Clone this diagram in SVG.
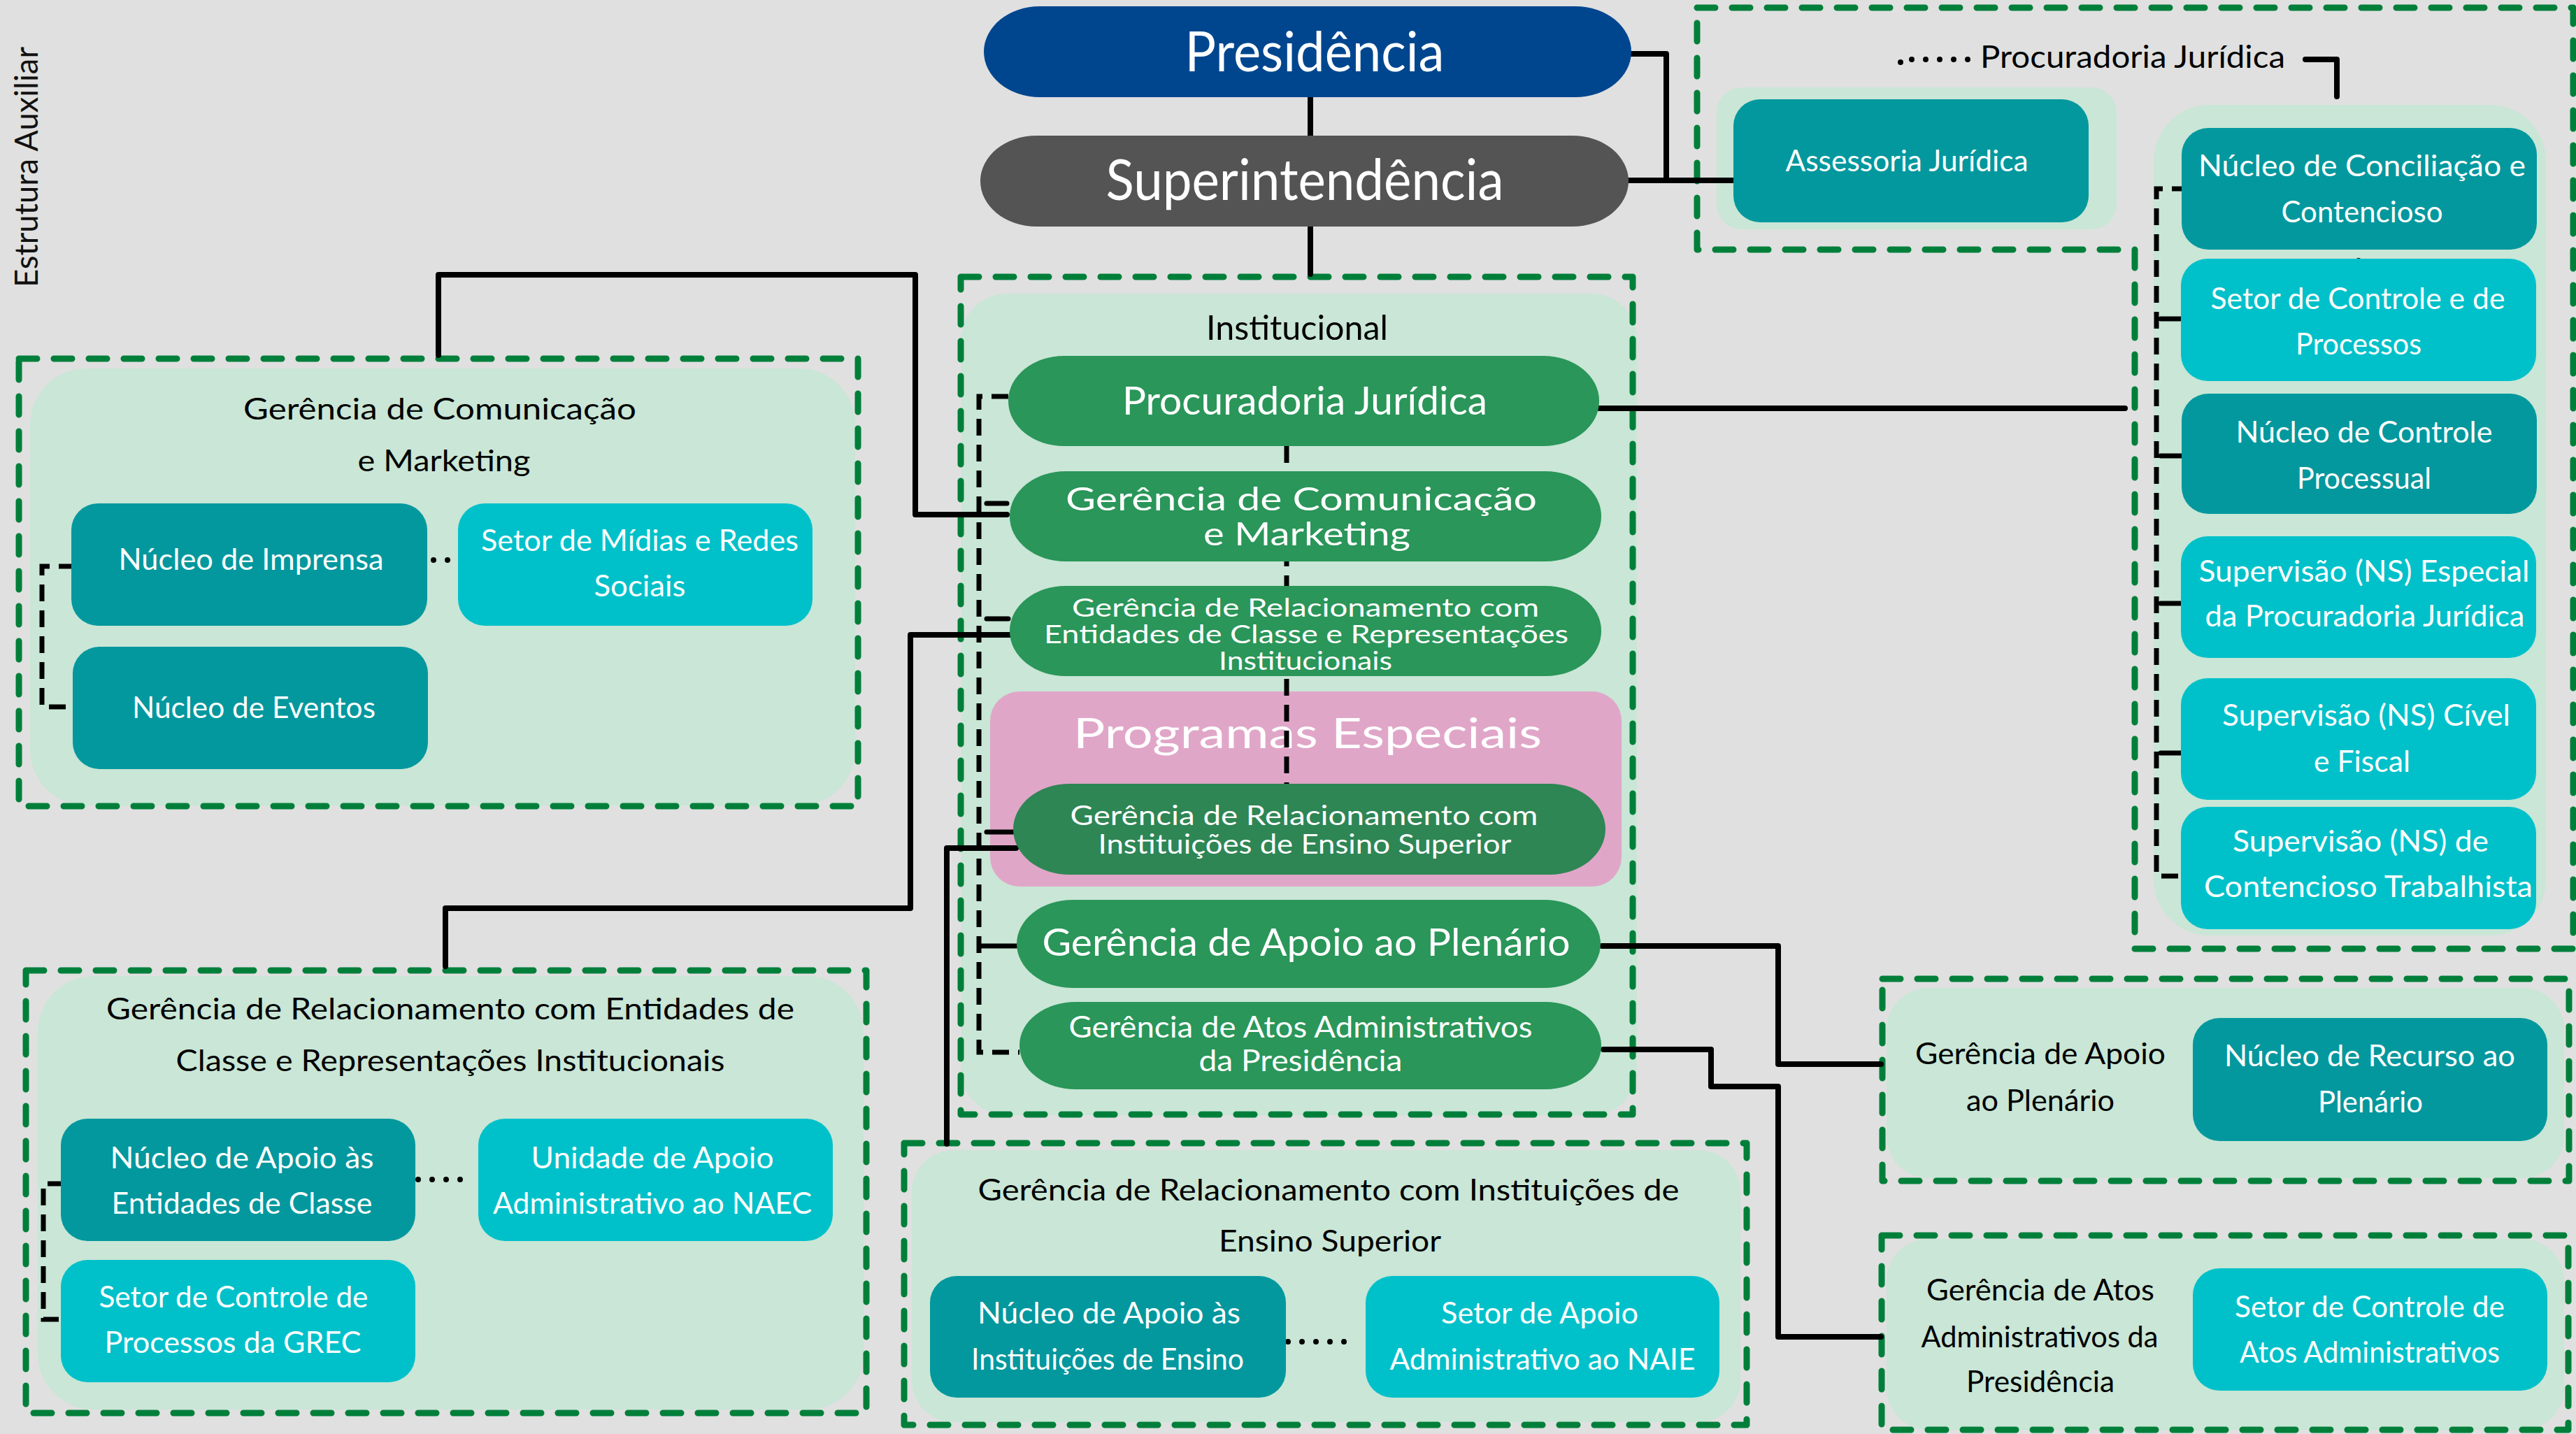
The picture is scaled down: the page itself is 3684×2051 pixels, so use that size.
<svg xmlns="http://www.w3.org/2000/svg" width="3684" height="2051" viewBox="0 0 3684 2051">
<style>
.dash{fill:none;stroke:#007F3A;stroke-width:9;stroke-dasharray:26 24;stroke-linecap:round;stroke-linejoin:round}
.panel{fill:#C9E6D6}
.teal{fill:#03989E}
.cyan{fill:#00C1CA}
.pill{fill:#2A9659}
.conn{fill:none;stroke:#000;stroke-width:8;stroke-linecap:round;stroke-linejoin:round}
.dconn{fill:none;stroke:#000;stroke-width:7;stroke-dasharray:24 13}
.stub{fill:none;stroke:#000;stroke-width:7;stroke-linecap:round}
.dots{fill:none;stroke:#000;stroke-width:8;stroke-linecap:round;stroke-dasharray:0 20}
text{font-family:Lato,"Open Sans","Liberation Sans",sans-serif;text-anchor:middle;fill:#fff}
.k{fill:#000}
.b{font-size:43px}
.g{font-size:43px;fill:#000}
</style>
<rect width="3684" height="2051" fill="#E0E0E0"/>
<text transform="translate(54,239) rotate(-90)" font-size="46" textLength="344" lengthAdjust="spacingAndGlyphs" style="fill:#111">Estrutura Auxiliar</text>

<g id="grp-procuradoria">
<path class="dash" d="M2427,11 H3680 V1357 H3053 V357 H2427 Z"/>
<rect class="panel" x="2455" y="125" width="572" height="203" rx="36"/>
<rect class="panel" x="3080" y="150" width="561" height="1188" rx="80"/>
<text class="k" x="3050" y="97" font-size="44" textLength="436" lengthAdjust="spacingAndGlyphs">Procuradoria Jurídica</text>
</g>
<g id="grp-institucional">
<rect class="panel" x="1375" y="420" width="966" height="1175" rx="65"/>
<rect class="dash" x="1374" y="396" width="961" height="1198"/>
<text class="k" x="1855" y="486" font-size="48" textLength="260" lengthAdjust="spacingAndGlyphs">Institucional</text>
<rect x="1416" y="989" width="903" height="279" rx="42" fill="#E0A6C8"/>
<text x="1870" y="1070" font-size="60" textLength="670" lengthAdjust="spacingAndGlyphs">Programas Especiais</text>
</g>
<g id="grp-gcm">
<rect class="panel" x="43" y="527" width="1180" height="625" rx="80"/>
<rect class="dash" x="27" y="513" width="1200" height="640"/>
<text class="g" x="629" y="600" textLength="562" lengthAdjust="spacingAndGlyphs">Gerência de Comunicação</text>
<text class="g" x="635" y="674" textLength="247" lengthAdjust="spacingAndGlyphs">e Marketing</text>
</g>
<g id="grp-grec">
<rect class="panel" x="54" y="1396" width="1181" height="620" rx="80"/>
<rect class="dash" x="37" y="1388" width="1202" height="633"/>
<text class="g" x="644" y="1458" textLength="984" lengthAdjust="spacingAndGlyphs">Gerência de Relacionamento com Entidades de</text>
<text class="g" x="644" y="1532" textLength="785" lengthAdjust="spacingAndGlyphs">Classe e Representações Institucionais</text>
</g>
<g id="grp-ies">
<rect class="panel" x="1304" y="1645" width="1185" height="389" rx="60"/>
<rect class="dash" x="1293" y="1635" width="1205" height="403"/>
<text class="g" x="1900" y="1717" textLength="1003" lengthAdjust="spacingAndGlyphs">Gerência de Relacionamento com Instituições de</text>
<text class="g" x="1902" y="1790" textLength="318" lengthAdjust="spacingAndGlyphs">Ensino Superior</text>
</g>
<g id="grp-plenario">
<rect class="panel" x="2698" y="1413" width="969" height="272" rx="60"/>
<rect class="dash" x="2692" y="1400" width="982" height="289"/>
<text class="g" x="2918" y="1522" textLength="358" lengthAdjust="spacingAndGlyphs">Gerência de Apoio</text>
<text class="g" x="2918" y="1589" textLength="212" lengthAdjust="spacingAndGlyphs">ao Plenário</text>
</g>
<g id="grp-atos">
<rect class="panel" x="2698" y="1772" width="969" height="273" rx="60"/>
<rect class="dash" x="2691" y="1767" width="982" height="278"/>
<text class="g" x="2918" y="1860" textLength="326" lengthAdjust="spacingAndGlyphs">Gerência de Atos</text>
<text class="g" x="2917" y="1927" textLength="339" lengthAdjust="spacingAndGlyphs">Administrativos da</text>
<text class="g" x="2918" y="1991" textLength="212" lengthAdjust="spacingAndGlyphs">Presidência</text>
</g>

<g id="connectors">
<path class="conn" d="M1874,139 V194"/>
<path class="conn" d="M1874,324 V392"/>
<path class="conn" d="M2333,77 H2383 V258"/>
<path class="conn" d="M2329,258 H2482"/>
<path class="conn" d="M2287,584 H3039"/>
<path class="conn" d="M3297,85 H3342 V138"/>
<path class="dots" d="M2814,85 H2718 V107"/>
<path class="conn" d="M1440,736 H1309 V393 H627 V508"/>
<path class="conn" d="M1445,908 H1302 V1299 H637 V1382"/>
<path class="conn" d="M1453,1213 H1354 V1636"/>
<path class="conn" d="M2291,1353 H2543 V1522 H2690"/>
<path class="conn" d="M2293,1501 H2447 V1554 H2543 V1912 H2690"/>
<path class="dconn" d="M1442,567 H1400 V1505 H1458"/>
<path class="stub" d="M1411,720 H1440 M1411,885 H1442 M1411,1190 H1450 M1404,1353 H1454"/>
<path class="dconn" d="M1840,638 V1121"/>
<path class="dconn" d="M3130,270 H3084 V1253 H3130"/>
<path class="stub" d="M3090,456 H3130 M3090,652 H3130 M3090,863 H3130 M3090,1077 H3130"/>
<path class="dconn" d="M108,810 H60 V1011 H108"/>
<path class="dconn" d="M92,1693 H62 V1887 H92"/>
<path class="dots" d="M620,801 H642"/>
<path class="dots" d="M598,1687 H678"/>
<path class="dots" d="M1842,1919 H1942"/>
<path class="dots" d="M3373,353 V393"/>
</g>

<g id="presidencia">
<rect x="1407" y="9" width="926" height="130" rx="80" ry="65" fill="#00468F"/>
<text x="1880" y="102" font-size="80" textLength="371" lengthAdjust="spacingAndGlyphs">Presidência</text>
</g>
<g id="superintendencia">
<rect x="1402" y="194" width="927" height="130" rx="80" ry="65" fill="#545454"/>
<text x="1866" y="286" font-size="82" textLength="569" lengthAdjust="spacingAndGlyphs">Superintendência</text>
</g>

<g id="assessoria-juridica">
<rect class="teal" x="2479" y="142" width="508" height="176" rx="38"/>
<text class="b" x="2727" y="245" textLength="347" lengthAdjust="spacingAndGlyphs">Assessoria Jurídica</text>
</g>
<g id="nucleo-conciliacao">
<rect class="teal" x="3120" y="183" width="508" height="174" rx="38"/>
<text class="b" x="3378" y="252" textLength="468" lengthAdjust="spacingAndGlyphs">Núcleo de Conciliação e</text>
<text class="b" x="3378" y="318" textLength="231" lengthAdjust="spacingAndGlyphs">Contencioso</text>
</g>
<g id="setor-controle-processos">
<rect class="cyan" x="3119" y="370" width="508" height="175" rx="38"/>
<text class="b" x="3372" y="442" textLength="421" lengthAdjust="spacingAndGlyphs">Setor de Controle e de</text>
<text class="b" x="3373" y="507" textLength="180" lengthAdjust="spacingAndGlyphs">Processos</text>
</g>
<g id="nucleo-controle-processual">
<rect class="teal" x="3120" y="563" width="508" height="172" rx="38"/>
<text class="b" x="3381" y="633" textLength="367" lengthAdjust="spacingAndGlyphs">Núcleo de Controle</text>
<text class="b" x="3381" y="699" textLength="192" lengthAdjust="spacingAndGlyphs">Processual</text>
</g>
<g id="supervisao-especial">
<rect class="cyan" x="3119" y="767" width="508" height="174" rx="38"/>
<text class="b" x="3381" y="832" textLength="473" lengthAdjust="spacingAndGlyphs">Supervisão (NS) Especial</text>
<text class="b" x="3382" y="896" textLength="457" lengthAdjust="spacingAndGlyphs">da Procuradoria Jurídica</text>
</g>
<g id="supervisao-civel">
<rect class="cyan" x="3119" y="970" width="508" height="174" rx="38"/>
<text class="b" x="3384" y="1038" textLength="412" lengthAdjust="spacingAndGlyphs">Supervisão (NS) Cível</text>
<text class="b" x="3378" y="1104" textLength="138" lengthAdjust="spacingAndGlyphs">e Fiscal</text>
</g>
<g id="supervisao-trabalhista">
<rect class="cyan" x="3119" y="1154" width="508" height="175" rx="38"/>
<text class="b" x="3376" y="1218" textLength="366" lengthAdjust="spacingAndGlyphs">Supervisão (NS) de</text>
<text class="b" x="3387" y="1283" textLength="470" lengthAdjust="spacingAndGlyphs">Contencioso Trabalhista</text>
</g>

<g id="inst-procuradoria">
<rect class="pill" x="1442" y="509" width="845" height="129" rx="80" ry="64"/>
<text x="1866" y="593" font-size="56" textLength="522" lengthAdjust="spacingAndGlyphs">Procuradoria Jurídica</text>
</g>
<g id="inst-gcm">
<rect class="pill" x="1444" y="674" width="846" height="129" rx="80" ry="64"/>
<text font-size="46"><tspan x="1861" y="730" textLength="674" lengthAdjust="spacingAndGlyphs">Gerência de Comunicação</tspan><tspan x="1869" y="780" textLength="296" lengthAdjust="spacingAndGlyphs">e Marketing</tspan></text>
</g>
<g id="inst-grec">
<rect class="pill" x="1444" y="838" width="846" height="129" rx="80" ry="64"/>
<text font-size="37"><tspan x="1867" y="882" textLength="668" lengthAdjust="spacingAndGlyphs">Gerência de Relacionamento com</tspan><tspan x="1868" y="920" textLength="750" lengthAdjust="spacingAndGlyphs">Entidades de Classe e Representações</tspan><tspan x="1867" y="958" textLength="248" lengthAdjust="spacingAndGlyphs">Institucionais</tspan></text>
</g>
<g id="inst-ies">
<rect x="1449" y="1121" width="847" height="130" rx="80" ry="65" fill="#2E8654"/>
<text font-size="38"><tspan x="1865" y="1180" textLength="669" lengthAdjust="spacingAndGlyphs">Gerência de Relacionamento com</tspan><tspan x="1866" y="1221" textLength="591" lengthAdjust="spacingAndGlyphs">Instituições de Ensino Superior</tspan></text>
</g>
<g id="inst-plenario">
<rect class="pill" x="1454" y="1287" width="835" height="126" rx="80" ry="63"/>
<text x="1868" y="1367" font-size="54" textLength="755" lengthAdjust="spacingAndGlyphs">Gerência de Apoio ao Plenário</text>
</g>
<g id="inst-atos">
<rect class="pill" x="1458" y="1433" width="832" height="125" rx="80" ry="62"/>
<text font-size="42"><tspan x="1860" y="1484" textLength="663" lengthAdjust="spacingAndGlyphs">Gerência de Atos Administrativos</tspan><tspan x="1860" y="1532" textLength="291" lengthAdjust="spacingAndGlyphs">da Presidência</tspan></text>
</g>

<g id="nucleo-imprensa">
<rect class="teal" x="102" y="720" width="509" height="175" rx="38"/>
<text class="b" x="359" y="815" textLength="379" lengthAdjust="spacingAndGlyphs">Núcleo de Imprensa</text>
</g>
<g id="setor-midias">
<rect class="cyan" x="655" y="720" width="507" height="175" rx="38"/>
<text class="b" x="915" y="788" textLength="454" lengthAdjust="spacingAndGlyphs">Setor de Mídias e Redes</text>
<text class="b" x="915" y="853" textLength="131" lengthAdjust="spacingAndGlyphs">Sociais</text>
</g>
<g id="nucleo-eventos">
<rect class="teal" x="104" y="925" width="508" height="175" rx="38"/>
<text class="b" x="363" y="1027" textLength="348" lengthAdjust="spacingAndGlyphs">Núcleo de Eventos</text>
</g>

<g id="nucleo-apoio-entidades">
<rect class="teal" x="87" y="1600" width="507" height="175" rx="38"/>
<text class="b" x="346" y="1671" textLength="377" lengthAdjust="spacingAndGlyphs">Núcleo de Apoio às</text>
<text class="b" x="346" y="1736" textLength="373" lengthAdjust="spacingAndGlyphs">Entidades de Classe</text>
</g>
<g id="unidade-naec">
<rect class="cyan" x="684" y="1600" width="507" height="175" rx="38"/>
<text class="b" x="933" y="1671" textLength="347" lengthAdjust="spacingAndGlyphs">Unidade de Apoio</text>
<text class="b" x="933" y="1736" textLength="456" lengthAdjust="spacingAndGlyphs">Administrativo ao NAEC</text>
</g>
<g id="setor-grec">
<rect class="cyan" x="87" y="1802" width="507" height="175" rx="38"/>
<text class="b" x="334" y="1870" textLength="385" lengthAdjust="spacingAndGlyphs">Setor de Controle de</text>
<text class="b" x="333" y="1935" textLength="367" lengthAdjust="spacingAndGlyphs">Processos da GREC</text>
</g>

<g id="nucleo-apoio-ies">
<rect class="teal" x="1330" y="1825" width="509" height="174" rx="38"/>
<text class="b" x="1586" y="1893" textLength="376" lengthAdjust="spacingAndGlyphs">Núcleo de Apoio às</text>
<text class="b" x="1584" y="1959" textLength="390" lengthAdjust="spacingAndGlyphs">Instituições de Ensino</text>
</g>
<g id="setor-naie">
<rect class="cyan" x="1953" y="1825" width="506" height="174" rx="38"/>
<text class="b" x="2202" y="1893" textLength="282" lengthAdjust="spacingAndGlyphs">Setor de Apoio</text>
<text class="b" x="2206" y="1959" textLength="437" lengthAdjust="spacingAndGlyphs">Administrativo ao NAIE</text>
</g>

<g id="nucleo-recurso">
<rect class="teal" x="3136" y="1456" width="507" height="176" rx="38"/>
<text class="b" x="3389" y="1525" textLength="416" lengthAdjust="spacingAndGlyphs">Núcleo de Recurso ao</text>
<text class="b" x="3390" y="1591" textLength="150" lengthAdjust="spacingAndGlyphs">Plenário</text>
</g>
<g id="setor-atos">
<rect class="cyan" x="3136" y="1814" width="507" height="175" rx="38"/>
<text class="b" x="3389" y="1884" textLength="386" lengthAdjust="spacingAndGlyphs">Setor de Controle de</text>
<text class="b" x="3389" y="1949" textLength="372" lengthAdjust="spacingAndGlyphs">Atos Administrativos</text>
</g>
</svg>
